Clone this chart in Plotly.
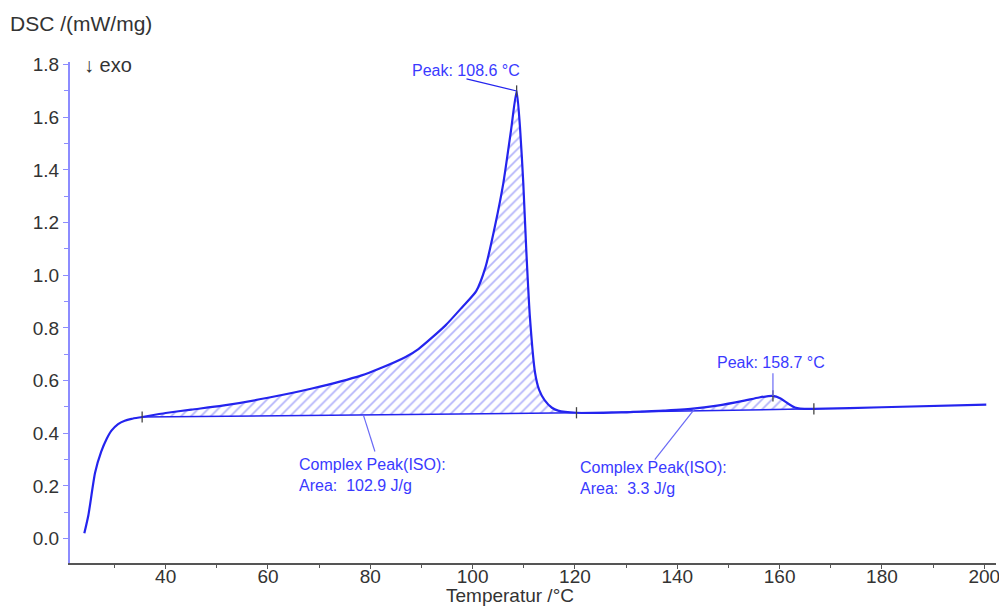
import plotly.graph_objects as go

# ---- data ----
temperature = [24.1, 24.9, 26.2, 27.4, 28.5, 29.4, 30.7, 32.0, 33.3, 35.4, 40, 45, 51.1, 60, 68.6,
               78.3, 81.7, 86.9, 89.4, 94.7, 98, 100.7, 102.5, 104.4, 106, 107.5, 108.6, 109.3,
               109.9, 110.5, 111.2, 112.2, 113.0, 114.1, 115.5, 116.7, 120.3, 129, 135, 142.6,
               147.8, 153.1, 156, 158.7, 160.2, 161.5, 163, 164, 166.7, 180, 200.4]
dsc = [0.02, 0.09, 0.25, 0.33, 0.38, 0.41, 0.435, 0.448, 0.455, 0.462, 0.477, 0.49, 0.505, 0.535, 0.57,
       0.62, 0.645, 0.69, 0.72, 0.81, 0.88, 0.94, 1.03, 1.19, 1.35, 1.55, 1.70, 1.55,
       1.35, 1.09, 0.84, 0.63, 0.565, 0.525, 0.497, 0.486, 0.478, 0.479, 0.484, 0.493,
       0.505, 0.524, 0.536, 0.542, 0.532, 0.515, 0.498, 0.494, 0.493, 0.499, 0.509]

# integration limits (baseline end points) and peaks
base1_T = [35.4, 120.3]
base1_v = [0.462, 0.478]
base2_T = [120.3, 166.7]
base2_v = [0.478, 0.493]
peak_T = [108.6, 158.7]
peak_v = [1.70, 0.542]
peak_labels = ["Peak: 108.6 °C", "Peak: 158.7 °C"]
area_labels = ["Complex Peak(ISO):<br>Area:  102.9 J/g", "Complex Peak(ISO):<br>Area:  3.3 J/g"]

BLUE = "#2424ee"
HATCH = "#6a6af5"
TXT = "#3a3aff"
FONT = "Liberation Sans, Arial, sans-serif"

# page body has an 8 px margin -> figure is 8 px smaller, plot margins 8 px smaller
W, H = 999, 598
ML, MR, MT, MB = 62, 7, 54, 43
PW = W - ML - MR

fig = go.Figure()


def segment(t0, t1):
    xs, ys = [], []
    for t, v in zip(temperature, dsc):
        if t0 <= t <= t1:
            xs.append(t)
            ys.append(v)
    return xs, ys


# hatched peak areas
for (bt, bv), (t0, t1) in [((base1_T, base1_v), (35.4, 120.3)), ((base2_T, base2_v), (142.6, 166.7))]:
    fig.add_trace(go.Scatter(x=[bt[0], bt[1]], y=[bv[0], bv[1]], mode="lines",
                             line=dict(color=BLUE, width=1.5), showlegend=False, hoverinfo="skip"))
    sx, sy = segment(t0, t1)
    fig.add_trace(go.Scatter(x=sx, y=sy, mode="lines", fill="tonexty",
                             line=dict(width=0, shape="spline", smoothing=0.6),
                             fillcolor="rgba(255,255,255,0)",
                             fillpattern=dict(shape="/", fgcolor=HATCH, bgcolor="rgba(255,255,255,0)",
                                              size=7, solidity=0.25),
                             showlegend=False, hoverinfo="skip"))

# main DSC curve
fig.add_trace(go.Scatter(x=temperature, y=dsc, mode="lines",
                         line=dict(color=BLUE, width=2.2, shape="spline", smoothing=0.6),
                         showlegend=False))

# limit / peak markers
fig.add_trace(go.Scatter(x=[base1_T[0], base1_T[1], base2_T[1]] + peak_T,
                         y=[base1_v[0], base1_v[1], base2_v[1]] + peak_v,
                         mode="markers",
                         marker=dict(symbol="line-ns", size=8, line=dict(color="#444444", width=1.3)),
                         showlegend=False, hoverinfo="skip"))

# leader lines
leaders = [
    (peak_T[0], peak_v[0], 98.8, 1.746),
    (peak_T[1], peak_v[1], peak_T[1], 0.628),
    (78.7, 0.466, 80.9, 0.331),
    (143.4, 0.493, 135.6, 0.30),
]
for x0, y0, x1, y1 in leaders:
    fig.add_shape(type="line", x0=x0, y0=y0, x1=x1, y1=y1, xref="x", yref="y",
                  line=dict(color=HATCH if y0 < 0.6 else BLUE, width=1.2))

# annotation texts
fig.add_annotation(x=98.8, y=1.777, text=peak_labels[0], showarrow=False,
                   font=dict(family=FONT, size=16, color=TXT), xanchor="center", yanchor="middle")
fig.add_annotation(x=158.3, y=0.67, text=peak_labels[1], showarrow=False,
                   font=dict(family=FONT, size=16, color=TXT), xanchor="center", yanchor="middle")
fig.add_annotation(x=65.7, y=0.243, text=area_labels[0], showarrow=False, align="left",
                   font=dict(family=FONT, size=16, color=TXT), xanchor="left", yanchor="middle")
fig.add_annotation(x=120.6, y=0.231, text=area_labels[1], showarrow=False, align="left",
                   font=dict(family=FONT, size=16, color=TXT), xanchor="left", yanchor="middle")

# header texts
fig.add_annotation(x=0.0, y=1.0, xref="paper", yref="paper", xanchor="left", yanchor="bottom",
                   text="↓ exo", showarrow=False, xshift=12, yshift=-16,
                   font=dict(family=FONT, size=20, color="#333333"))
fig.add_annotation(x=-ML / PW, y=1.0, xref="paper", yref="paper", xanchor="left", yanchor="bottom",
                   text="DSC /(mW/mg)", showarrow=False, xshift=0, yshift=25,
                   font=dict(family=FONT, size=21, color="#333333"))
fig.add_annotation(x=0.5, y=0, xref="paper", yref="paper", xanchor="center", yanchor="top",
                   text="Temperatur /°C", showarrow=False, xshift=-23, yshift=-20,
                   font=dict(family=FONT, size=19, color="#333333"))

fig.update_layout(
    width=W, height=H,
    margin=dict(l=ML, r=MR, t=MT, b=MB),
    paper_bgcolor="white", plot_bgcolor="white",
    font=dict(family=FONT, size=18, color="#333333"),
    showlegend=False,
)
fig.update_xaxes(range=[21.3, 202.3], tickvals=[40, 60, 80, 100, 120, 140, 160, 180, 200],
                 showgrid=False, zeroline=False, showline=True, linecolor="#555555", linewidth=1.5,
                 ticks="outside", ticklen=4, tickcolor="#555555", ticklabelstandoff=-9,
                 minor=dict(dtick=10, tick0=0, ticks="outside", ticklen=3, tickcolor="#555555"),
                 tickfont=dict(size=19, color="#333333"))
fig.update_yaxes(range=[-0.0925, 1.81], tickvals=[0.0, 0.2, 0.4, 0.6, 0.8, 1.0, 1.2, 1.4, 1.6, 1.8],
                 tickformat=".1f",
                 showgrid=False, zeroline=False, showline=True, linecolor="#8c8cff", linewidth=2,
                 ticks="outside", ticklen=5, tickcolor="#8c8cff",
                 minor=dict(dtick=0.1, tick0=0, ticks="outside", ticklen=4, tickcolor="#8c8cff"),
                 tickfont=dict(size=19, color="#333333"))

fig.write_html("out.html")
